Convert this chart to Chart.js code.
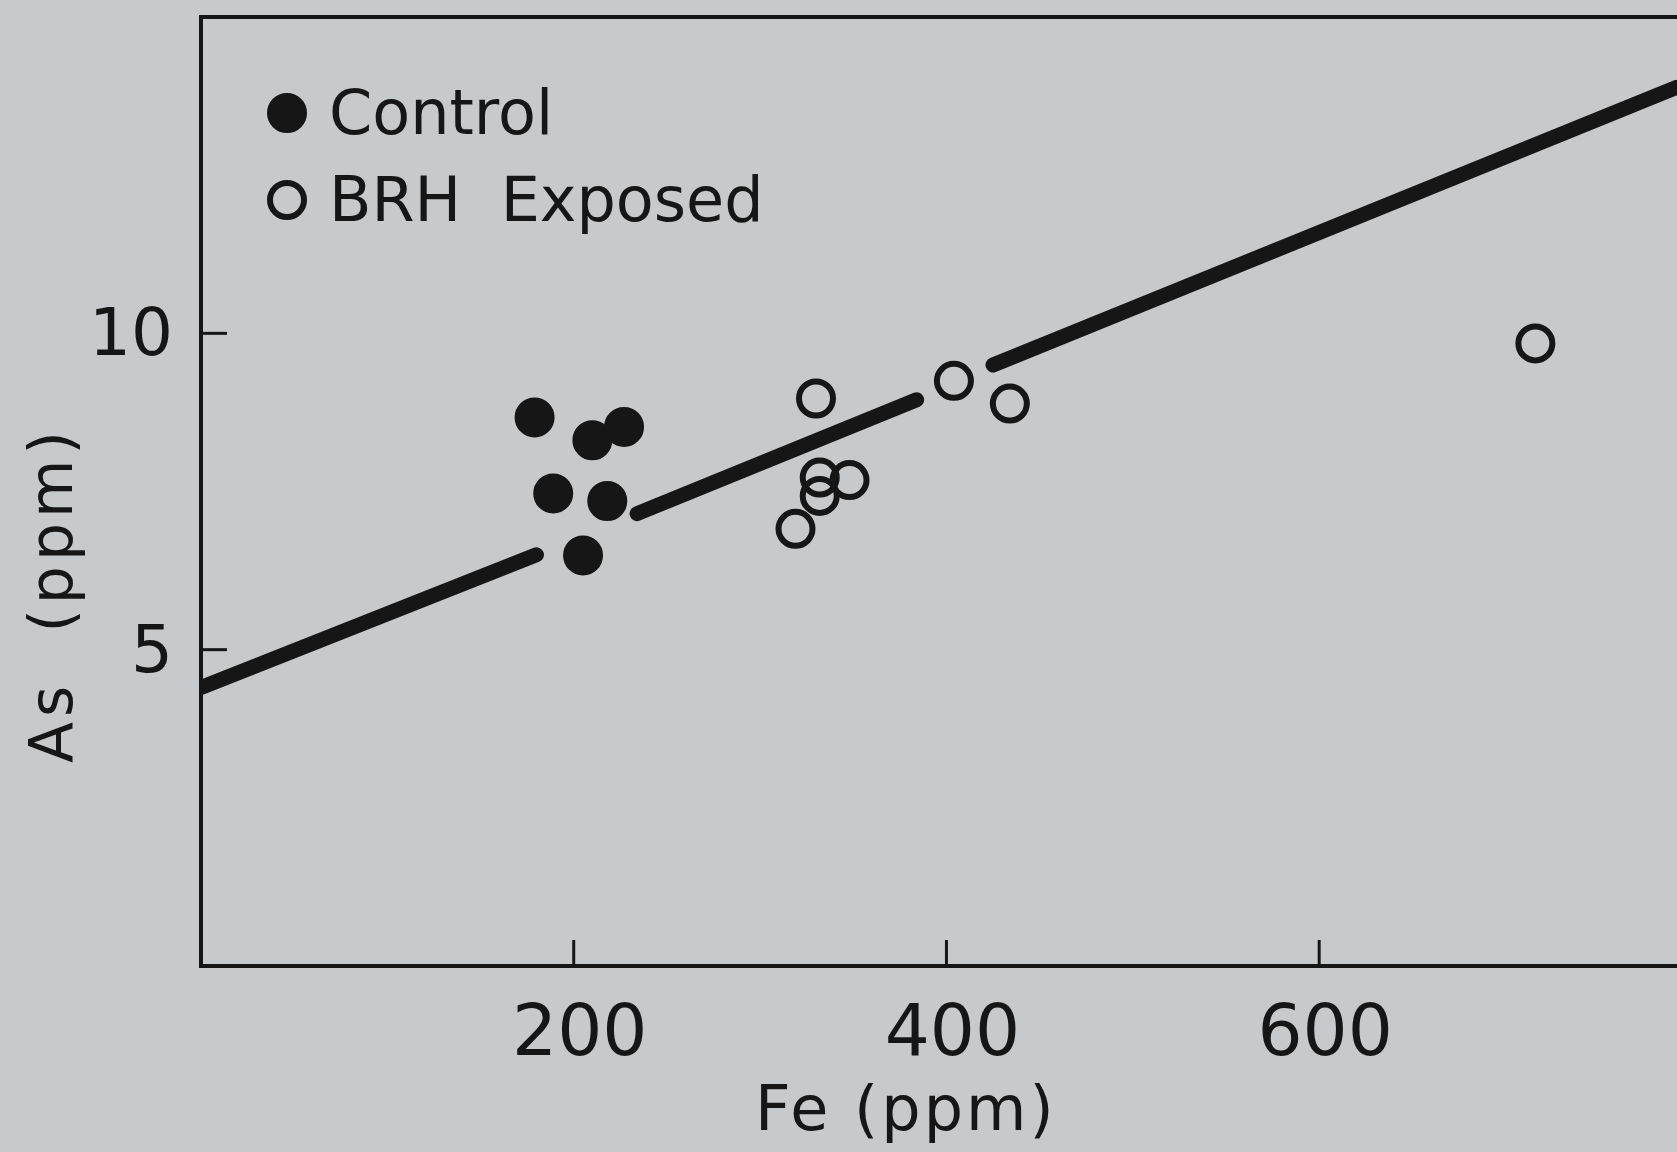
<!DOCTYPE html>
<html>
<head>
<meta charset="utf-8">
<title>As vs Fe</title>
<script src="https://cdn.jsdelivr.net/npm/chart.js@4.4.0/dist/chart.umd.min.js"></script>
<style>
  html, body { margin: 0; padding: 0; background: #c8c9cb; overflow: hidden; }
  canvas { display: block; }
</style>
</head>
<body>
<canvas id="chart0" width="1677" height="1152"></canvas>
<script>
// {{{ data
let controlFe = [179, 210, 227, 189, 218, 205];
let controlAs = [8.67, 8.31, 8.52, 7.47, 7.35, 6.49];
let exposedFe = [330, 404, 332, 348, 332, 319, 434, 716];
let exposedAs = [8.97, 9.25, 7.72, 7.68, 7.43, 6.91, 8.89, 9.84];
// regression line, drawn in three pieces with gaps round the points
let fitFe = [0, 180, 206, 234, 384, 404, 425, 792];
let fitAs = [4.40, 6.50, null, 7.15, 8.95, null, 9.50, 13.89];
let xTicks = [200, 400, 600];
let yTicks = [5, 10];
let xTitle = 'Fe (ppm)';
let yTitle = 'As  (ppm)';
// }}}
let ink = '#161616';
let font = "'DejaVu Sans'";
let pts = (xs, ys) => xs.map((x, i) => ({x: x, y: ys[i]}));
// {{{ frame plugin: top edge, inward ticks, legend, axis titles
let frame =
{
  id: 'frame',
  afterDraw(chart)
  {
    let ctx = chart.ctx;
    let a = chart.chartArea;
    let sx = chart.scales.x;
    let sy = chart.scales.y;
    ctx.save();
    ctx.strokeStyle = ink;
    ctx.fillStyle = ink;
    ctx.lineWidth = 4;
    ctx.beginPath();
    ctx.moveTo(a.left - 2, a.top);
    ctx.lineTo(a.right, a.top);
    ctx.stroke();
    ctx.lineWidth = 3;
    for (let v of xTicks)
    {
      let p = sx.getPixelForValue(v);
      ctx.beginPath();
      ctx.moveTo(p, a.bottom);
      ctx.lineTo(p, a.bottom - 26);
      ctx.stroke();
    }
    for (let v of yTicks)
    {
      let p = sy.getPixelForValue(v);
      ctx.beginPath();
      ctx.moveTo(a.left, p);
      ctx.lineTo(a.left + 26, p);
      ctx.stroke();
    }
    // legend
    ctx.font = '62px ' + font;
    ctx.textAlign = 'left';
    ctx.textBaseline = 'alphabetic';
    for (let i = 0; i < 2; i++)
    {
      let ds = chart.data.datasets[i];
      let cx = a.left + 86;
      let cy = a.top + 96 + i * 87;
      ctx.beginPath();
      ctx.arc(cx, cy, ds.pointRadius, 0, Math.PI * 2);
      ctx.fillStyle = ds.pointBackgroundColor;
      ctx.fill();
      ctx.lineWidth = ds.pointBorderWidth;
      ctx.strokeStyle = ds.pointBorderColor;
      ctx.stroke();
      ctx.fillStyle = ink;
      ctx.fillText(ds.label, cx + 42, cy + 21);
    }
    // axis titles
    ctx.letterSpacing = '3px';
    ctx.font = '62px ' + font;
    ctx.fillText(xTitle, a.left + 554, a.bottom + 164);
    ctx.letterSpacing = '5px';
    ctx.font = '60px ' + font;
    ctx.translate(a.left - 129, a.bottom - 203);
    ctx.rotate(-Math.PI / 2);
    ctx.fillText(yTitle, 0, 0);
    ctx.restore();
  }
};
// }}}
// scales keep the plot frame fixed: no extra room for tick label overhang
let noPad = (s) =>
{
  s.paddingTop = 0;
  s.paddingBottom = 0;
  s.paddingLeft = 0;
  s.paddingRight = 0;
};
new Chart(document.getElementById('chart0'),
{
  type: 'scatter',
  data:
  {
    datasets:
    [
      {
        label: 'Control',
        data: pts(controlFe, controlAs),
        pointRadius: 19,
        pointBorderWidth: 2,
        pointBackgroundColor: ink,
        pointBorderColor: ink
      },
      {
        label: 'BRH  Exposed',
        data: pts(exposedFe, exposedAs),
        pointRadius: 17,
        pointBorderWidth: 6,
        pointBackgroundColor: 'rgba(0,0,0,0)',
        pointBorderColor: ink
      },
      {
        label: 'fit',
        data: pts(fitFe, fitAs),
        showLine: true,
        spanGaps: false,
        pointRadius: 0,
        borderColor: ink,
        borderWidth: 15,
        borderCapStyle: 'round',
        clip: 0
      }
    ]
  },
  options:
  {
    responsive: false,
    animation: false,
    devicePixelRatio: 1,
    events: [],
    layout: {autoPadding: false, padding: {top: 17, left: 0, right: 0, bottom: 0}},
    plugins: {legend: {display: false}, tooltip: {enabled: false}},
    scales:
    {
      x:
      {
        type: 'linear',
        min: 0,
        max: 792,
        grid: {display: false, drawTicks: false},
        border: {display: true, color: ink, width: 4},
        ticks: {color: ink, font: {family: font, size: 71}, padding: 28, labelOffset: 6},
        afterBuildTicks: (s) => { s.ticks = xTicks.map(v => ({value: v})); },
        afterFit: (s) => { s.height = 186; noPad(s); }
      },
      y:
      {
        type: 'linear',
        min: 0,
        max: 15,
        grid: {display: false, drawTicks: false},
        border: {display: true, color: ink, width: 4},
        ticks: {color: ink, font: {family: font, size: 66}, padding: 28, labelOffset: 5},
        afterBuildTicks: (s) => { s.ticks = yTicks.map(v => ({value: v})); },
        afterFit: (s) => { s.width = 201; noPad(s); }
      }
    }
  },
  plugins: [frame]
});
</script>
</body>
</html>
